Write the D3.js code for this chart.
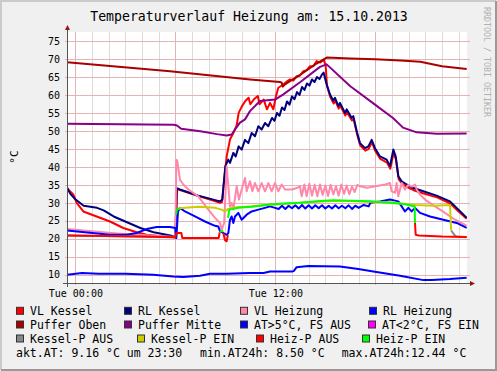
<!DOCTYPE html>
<html>
<head>
<meta charset="utf-8">
<script src="https://cdn.jsdelivr.net/npm/d3@7"></script>
<style>
  body { margin: 0; background: #f0f0f0; }
  svg text { font-family: "DejaVu Sans Mono", monospace; fill: #000; }
</style>
</head>
<body>
<div id="chart"></div>
<script>
// time is in hours relative to Tue 15.10.2013 00:00, values in °C
var vlKessel = [[-0.5,34.2],[-0.32,33.2],[-0.12,32.3],[0.08,30.0],[0.48,27.6],[1.28,26.2],[2.08,24.8],[2.88,23.0],[3.68,21.8],[4.28,21.1],[5.0,20.8],[5.68,20.6],[6.04,20.3],[6.1,33.9],[6.18,33.7],[7.38,31.9],[8.08,30.9],[8.68,30.0],[8.8,30.2],[8.92,36.0],[9.0,39.2],[9.08,42.9],[9.28,47.6],[9.48,49.4],[9.68,51.5],[9.8,55.0],[10.0,56.9],[10.2,58.3],[10.4,59.2],[10.5,57.4],[10.7,58.7],[10.95,59.7],[11.05,57.4],[11.3,58.7],[11.5,56.0],[11.68,57.8],[11.88,56.0],[12.04,59.7],[12.18,62.0],[12.48,62.9],[12.7,63.8],[12.88,64.3],[13.08,64.0],[13.28,65.2],[13.48,65.4],[13.68,66.6],[13.88,66.9],[14.08,68.0],[14.28,68.0],[14.48,69.4],[14.7,69.0],[14.9,69.8],[15.02,68.2],[15.1,62.5],[15.3,59.4],[15.5,57.6],[15.6,58.4],[15.8,56.2],[15.9,57.0],[16.2,54.3],[16.3,55.2],[16.6,52.9],[16.7,53.3],[16.8,51.2],[16.92,48.8],[17.1,45.9],[17.4,44.5],[17.6,45.0],[17.8,46.8],[18.0,44.4],[18.3,42.2],[18.7,41.2],[18.9,39.5],[19.1,44.0],[19.24,42.0],[19.4,36.6],[19.6,35.3],[19.9,34.4],[20.3,33.5],[20.9,32.6],[21.7,31.5],[22.5,29.8],[22.9,28.0],[23.48,25.6]];

var rlKessel = [[-0.5,34.2],[-0.3,32.5],[0.0,31.0],[0.5,29.2],[1.3,28.6],[1.7,27.9],[2.3,26.2],[3.1,24.6],[3.9,23.0],[4.7,21.8],[5.7,20.9],[6.0,20.5],[6.08,34.1],[6.28,33.7],[7.38,32.0],[8.68,30.4],[8.82,30.9],[9.0,40.2],[9.18,42.0],[9.28,41.1],[9.48,43.9],[9.62,42.9],[9.8,45.7],[9.98,44.8],[10.18,47.5],[10.38,46.6],[10.58,49.4],[10.78,48.5],[10.98,51.3],[11.18,50.4],[11.38,52.2],[11.58,51.3],[11.8,53.6],[11.95,52.8],[12.1,55.0],[12.25,54.2],[12.4,56.5],[12.55,55.8],[12.7,58.2],[12.85,57.3],[13.0,59.6],[13.15,58.8],[13.3,60.8],[13.45,60.0],[13.6,62.2],[13.75,61.4],[13.9,63.2],[14.05,62.6],[14.2,64.3],[14.35,63.6],[14.5,65.0],[14.65,64.4],[14.8,65.7],[14.9,66.2],[15.05,63.4],[15.28,60.1],[15.48,58.4],[15.58,59.2],[15.78,56.9],[15.88,57.8],[16.18,55.0],[16.28,56.0],[16.58,53.6],[16.68,54.1],[16.78,52.0],[16.9,49.6],[17.08,46.6],[17.38,45.2],[17.58,45.7],[17.78,47.5],[17.98,45.2],[18.28,42.9],[18.68,42.0],[18.88,40.2],[19.08,44.8],[19.22,42.9],[19.38,37.4],[19.58,36.0],[19.88,35.1],[20.28,34.1],[20.88,33.2],[21.68,32.0],[22.48,30.4],[22.88,28.6],[23.48,25.8]];

var vlHeizung = [[-0.5,22.7],[0.5,22.3],[1.5,21.9],[2.5,21.5],[3.5,21.2],[4.5,20.9],[5.5,20.6],[6.0,20.5],[6.06,42.0],[6.12,41.6],[6.28,36.4],[6.48,35.1],[6.78,33.7],[7.38,31.8],[7.98,28.1],[8.38,25.8],[8.68,24.4],[8.78,22.5],[8.93,24.4],[9.08,40.2],[9.18,34.6],[9.28,29.0],[9.38,30.0],[9.48,28.1],[9.68,34.6],[9.82,30.9],[9.98,33.7],[10.18,36.9],[10.28,33.2],[10.48,36.0],[10.62,33.2],[10.78,35.5],[10.98,33.2],[11.18,35.5],[11.38,33.2],[11.58,35.5],[11.78,33.2],[11.98,35.5],[12.18,33.2],[12.38,35.1],[12.58,33.7],[13.0,33.7],[13.28,34.1],[13.48,34.6],[13.58,31.8],[13.74,35.1],[13.88,31.8],[14.04,35.3],[14.2,32.0],[14.36,35.0],[14.52,31.8],[14.68,35.1],[14.84,32.2],[15.0,34.8],[15.16,31.9],[15.32,35.0],[15.48,32.3],[15.64,34.6],[15.8,32.0],[15.96,35.1],[16.12,32.5],[16.28,34.8],[16.44,32.4],[16.6,34.5],[16.76,33.0],[16.92,35.0],[17.08,34.6],[17.5,34.2],[18.0,34.6],[18.6,35.1],[18.88,35.5],[18.98,33.2],[19.18,32.8],[19.28,35.5],[19.38,31.8],[19.58,35.5],[19.78,33.7],[19.98,35.0],[20.2,34.5],[20.38,35.1],[20.48,33.7],[20.68,32.3],[20.98,30.9],[21.58,29.0],[22.18,27.2],[22.78,25.3],[23.48,23.6]];

var rlHeizung = [[-0.5,22.3],[2.08,21.1],[3.08,21.1],[3.68,21.6],[4.28,22.7],[4.88,23.3],[5.68,23.3],[6.0,23.0],[6.06,20.2],[6.16,27.6],[6.28,28.6],[6.58,27.6],[7.18,26.2],[7.78,24.8],[8.38,23.6],[8.58,23.4],[8.68,22.1],[9.08,21.1],[9.18,21.6],[9.28,25.3],[9.38,26.2],[9.48,24.4],[9.58,26.2],[9.78,27.2],[9.98,25.3],[10.28,26.7],[10.58,27.6],[10.98,28.1],[11.38,28.6],[11.68,29.0],[11.98,28.6],[12.2,28.3],[12.4,29.2],[12.6,28.3],[12.8,29.2],[13.0,28.5],[13.2,29.3],[13.4,28.4],[13.6,29.4],[13.8,28.4],[14.0,29.3],[14.2,28.4],[14.4,29.3],[14.6,28.5],[14.8,29.3],[15.0,28.4],[15.2,29.2],[15.4,28.4],[15.6,29.3],[15.8,28.5],[16.0,29.2],[16.2,28.5],[16.4,29.3],[16.6,28.3],[16.8,29.2],[17.0,28.6],[17.3,29.4],[17.6,29.0],[17.7,30.0],[18.28,30.4],[18.88,30.9],[19.38,30.4],[19.58,29.0],[19.78,27.6],[19.98,28.6],[20.18,27.6],[20.38,28.6],[20.68,27.2],[21.28,26.2],[22.08,25.3],[22.88,24.4],[23.48,23.0]];

var pufferOben = [[-0.5,69.1],[5.68,66.6],[10.48,64.3],[12.28,63.6],[12.38,63.4],[12.45,62.3],[12.6,63.0],[13.0,64.2],[13.5,65.6],[14.0,67.2],[14.5,68.8],[15.08,70.4],[16.5,70.1],[18.0,69.9],[19.5,69.6],[20.7,69.2],[22.0,68.0],[23.48,67.2]];

var pufferMitte = [[-0.5,52.0],[5.9,51.7],[6.1,51.5],[6.35,50.6],[7.5,49.9],[8.5,49.1],[9.08,48.7],[9.38,49.0],[9.58,50.4],[9.88,52.3],[10.18,53.2],[10.48,55.5],[11.08,58.3],[11.98,58.7],[12.46,60.1],[13.5,63.6],[14.68,67.8],[15.08,68.5],[16.48,62.5],[17.98,57.3],[19.06,53.6],[19.66,50.9],[20.48,49.6],[21.68,49.2],[23.48,49.3]];

var aussen = [[-0.5,10.0],[0.4,10.5],[1.4,10.3],[3.0,10.3],[4.68,10.0],[5.88,9.5],[6.48,9.4],[7.48,9.7],[8.08,10.3],[9.08,10.3],[10.48,10.5],[11.3,10.5],[11.68,10.9],[13.0,10.9],[13.1,11.0],[13.28,12.1],[13.98,12.44],[15.88,12.3],[16.98,11.6],[17.88,10.9],[19.48,9.7],[20.88,8.5],[21.4,8.55],[22.48,8.8],[23.48,9.16]];

var kesselPAus = [[-0.5,20.9],[6.0,20.4],null,[22.55,22.3],[22.72,21.2],[22.86,20.6],[23.48,20.4]];
var kesselPEin = [[6.2,28.5],[7.38,28.9],[8.4,28.6],[8.78,28.1],[8.98,27.6],[9.18,28.3],[9.5,28.7],[10.5,29.0],[11.5,29.4],[12.5,29.7],[13.5,30.0],[14.5,30.3],[15.5,30.5],[16.5,30.5],[17.5,30.3],[18.5,30.2],[19.2,30.0],[19.8,29.7],[20.4,29.4],[21.5,29.2],[22.48,29.4],[22.55,22.3]];
var heizPAus = [[-0.5,20.9],[2.0,20.8],[4.0,20.6],[6.0,20.4],[6.06,21.6],[6.36,21.6],[6.42,20.2],[8.6,20.2],[8.66,21.8],null,[8.88,21.6],[8.98,19.6],[9.08,19.3],[9.15,21.0],null,[20.38,24.4],[20.42,21.1],[20.6,20.9],[22.0,20.6],[23.48,20.5]];
var heizPEin = [[6.04,26.7],[6.1,28.1],[6.25,28.4],null,[8.66,22.1],[8.88,22.1],null,[9.16,25.8],[9.24,28.1],[9.78,28.6],[10.58,28.9],[11.68,29.5],[12.5,29.8],[13.48,30.0],[14.5,30.4],[15.48,30.7],[16.5,30.6],[17.68,30.4],[18.9,30.0],[19.8,29.6],[20.36,29.0],[20.38,24.4]];

var yTicks = [10,15,20,25,30,35,40,45,50,55,60,65,70,75];
var xLabelHours = [0, 12];

var series = [
  {name: "VL Kessel", data: vlKessel, color: "#ff0000"},
  {name: "RL Kessel", data: rlKessel, color: "#000080"},
  {name: "VL Heizung", data: vlHeizung, color: "#ff88aa"},
  {name: "RL Heizung", data: rlHeizung, color: "#0000ff"},
  {name: "Puffer Oben", data: pufferOben, color: "#aa0000"},
  {name: "Puffer Mitte", data: pufferMitte, color: "#880088"},
  {name: "AT>5°C, FS AUS", data: aussen, color: "#0000ff"},
  {name: "AT<2°C, FS EIN", data: [], color: "#ff00ff"},
  {name: "Kessel-P AUS", data: kesselPAus, color: "#888888"},
  {name: "Kessel-P EIN", data: kesselPEin, color: "#cccc00"},
  {name: "Heiz-P AUS", data: heizPAus, color: "#ff0000"},
  {name: "Heiz-P EIN", data: heizPEin, color: "#00ff00"}
];

// legend layout (swatch x, row)
var legendPos = [
  [16.5, 0], [124.5, 0], [240.5, 0], [369.5, 0],
  [16.5, 1], [124.5, 1], [240.5, 1], [368.5, 1],
  [16.5, 2], [137.5, 2], [256.5, 2], [362.5, 2]
];

var W = 497, H = 371;
var pLeft = 67, pRight = 467, pTop = 32, pBottom = 283;

var t0 = new Date(2013, 9, 15, 0, 0);
function hDate(h) { return new Date(t0.getTime() + h * 3600e3); }

var x = d3.scaleTime().domain([hDate(-0.5), hDate(23.5)]).range([pLeft, pRight]);
var y = d3.scaleLinear().domain([7.7, 77.5]).range([pBottom, pTop]);

var svg = d3.select("#chart").append("svg")
  .attr("width", W).attr("height", H);

// background and 3d frame
svg.append("rect").attr("width", W).attr("height", H).attr("fill", "#f0f0f0");
svg.append("path").attr("d", "M1,370 V1 H496").attr("fill", "none")
  .attr("stroke", "#cbcbcb").attr("stroke-width", 2);
svg.append("path").attr("d", "M1,370 H496 V1").attr("fill", "none")
  .attr("stroke", "#999999").attr("stroke-width", 2);

svg.append("rect").attr("x", pLeft).attr("y", pTop)
  .attr("width", pRight - pLeft).attr("height", pBottom - pTop).attr("fill", "#fff");

// grid
var grid = svg.append("g");
x.ticks(d3.timeHour.every(1)).forEach(function(t) {
  var major = t.getHours() % 6 === 0;
  grid.append("line")
    .attr("x1", Math.round(x(t)) + 0.5).attr("x2", Math.round(x(t)) + 0.5)
    .attr("y1", pTop).attr("y2", pBottom + 2)
    .attr("stroke", major ? "#e4b4b4" : "#dcdcdc");
});
yTicks.forEach(function(v) {
  grid.append("line")
    .attr("x1", pLeft - 2).attr("x2", pRight + 3)
    .attr("y1", Math.round(y(v)) + 0.5).attr("y2", Math.round(y(v)) + 0.5)
    .attr("stroke", "#e4b4b4");
});

// data lines
svg.append("clipPath").attr("id", "clip").append("rect")
  .attr("x", pLeft).attr("y", pTop).attr("width", pRight - pLeft).attr("height", pBottom - pTop);

var line = d3.line()
  .defined(function(d) { return d != null; })
  .x(function(d) { return x(hDate(d[0])); })
  .y(function(d) { return y(d[1]); });

svg.append("g").attr("clip-path", "url(#clip)")
  .selectAll("path").data(series.filter(function(s) { return s.data.length; }))
  .enter().append("path")
  .attr("d", function(s) { return line(s.data); })
  .attr("fill", "none")
  .attr("stroke", function(s) { return s.color; })
  .attr("stroke-width", 2)
  .attr("stroke-linejoin", "round");

// axes
var yAxis = d3.axisLeft(y).tickValues(yTicks).tickSize(0).tickPadding(7);
var gy = svg.append("g").attr("transform", "translate(" + pLeft + ",0)").call(yAxis);
gy.select(".domain").remove();
gy.selectAll("text").style("font-family", "DejaVu Sans Mono").style("font-size", "10px");

var xAxis = d3.axisBottom(x)
  .tickValues(xLabelHours.map(hDate))
  .tickFormat(d3.timeFormat("Tue %H:%M"))
  .tickSize(0).tickPadding(7);
var gx = svg.append("g").attr("transform", "translate(0," + pBottom + ")").call(xAxis);
gx.select(".domain").remove();
gx.selectAll("text").style("font-family", "DejaVu Sans Mono").style("font-size", "10px");

svg.append("line").attr("x1", pLeft - 4).attr("x2", pRight + 4)
  .attr("y1", pBottom + 0.5).attr("y2", pBottom + 0.5).attr("stroke", "#555");
svg.append("line").attr("x1", pLeft + 0.5).attr("x2", pLeft + 0.5)
  .attr("y1", pBottom + 4).attr("y2", pTop - 3).attr("stroke", "#555");
svg.append("path").attr("d", "M" + (pRight + 3) + "," + (pBottom - 2) + " L" + (pRight + 8) + "," + (pBottom + 0.5) + " L" + (pRight + 3) + "," + (pBottom + 3) + "Z")
  .attr("fill", "#991111");
svg.append("path").attr("d", "M" + (pLeft - 2) + "," + (pTop - 2) + " L" + (pLeft + 0.5) + "," + (pTop - 7) + " L" + (pLeft + 3) + "," + (pTop - 2) + "Z")
  .attr("fill", "#991111");

// title and labels
svg.append("text").attr("x", 249).attr("y", 21).attr("text-anchor", "middle")
  .style("font-size", "13.2px").text("Temperaturverlauf Heizung am: 15.10.2013");
svg.append("text").attr("transform", "translate(17.5,157) rotate(-90)")
  .attr("text-anchor", "middle").style("font-size", "11px").text("°C");
svg.append("text").attr("transform", "translate(484,7) rotate(90)")
  .style("font-size", "8.3px").style("fill", "#b0b0b0").text("RRDTOOL / TOBI OETIKER");

// legend
var rowBase = [315.3, 329, 343];
var lg = svg.append("g").style("font-size", "11.5px");
series.forEach(function(s, i) {
  var p = legendPos[i];
  lg.append("rect").attr("x", p[0]).attr("y", rowBase[p[1]] - 8)
    .attr("width", 7).attr("height", 7)
    .attr("fill", s.color).attr("stroke", "#333").attr("stroke-width", 1);
  lg.append("text").attr("x", p[0] + 13.5).attr("y", rowBase[p[1]]).text(s.name);
});
lg.append("text").attr("x", 16).attr("y", 357).text("akt.AT: 9.16 °C um 23:30");
lg.append("text").attr("x", 200).attr("y", 357).text("min.AT24h: 8.50 °C");
lg.append("text").attr("x", 341.7).attr("y", 357).text("max.AT24h:12.44 °C");
</script>
</body>
</html>
